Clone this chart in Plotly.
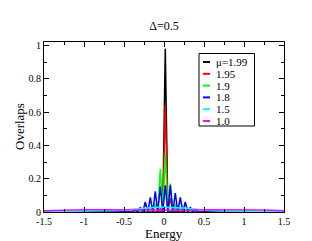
import plotly.graph_objects as go

# ---- data ----
labels = ["μ=1.99", "1.95", "1.9", "1.8", "1.5", "1.0"]
colors = ["#000000", "#ff0000", "#00ff00", "#0000ff", "#00ffff", "#ff00ff"]

e_black = [-1.5, -0.015, 0.016, 0.048, 1.5]
v_black = [0.0, 0.0, 0.98, 0.0, 0.0]

e_red = [-1.5, -0.078, -0.046, -0.015, 0.016, 0.048, 0.079, 0.110, 0.141, 0.173, 1.5]
v_red = [0.0, 0.0, 0.02, 0.0, 0.64, 0.0, 0.08, 0.0, 0.03, 0.0, 0.0]

e_green = [-1.5, -0.203, -0.171, -0.140, -0.109, -0.078, -0.046, -0.015, 0.016,
           0.048, 0.079, 0.110, 0.141, 0.173, 0.204, 0.235, 1.5]
v_green = [0.0, 0.0, 0.02, 0.0, 0.05, 0.0, 0.26, 0.0, 0.35,
           0.0, 0.17, 0.0, 0.05, 0.0, 0.02, 0.0, 0.0]

e_blue = [-1.5, -0.39, -0.359, -0.328, -0.296, -0.265, -0.234, -0.203, -0.171, -0.140,
          -0.109, -0.078, -0.046, -0.015, 0.016, 0.048, 0.079, 0.110, 0.141, 0.173,
          0.204, 0.235, 0.266, 0.298, 0.329, 0.360, 0.391, 0.42, 1.5]
v_blue = [0.0, 0.0, 0.015, 0.0, 0.028, 0.0, 0.06, 0.0, 0.088, 0.0,
          0.124, 0.0, 0.153, 0.0, 0.16, 0.0, 0.16, 0.0, 0.113, 0.0,
          0.088, 0.0, 0.06, 0.0, 0.03, 0.0, 0.015, 0.0, 0.0]

e_cyan = [-1.5, -1.25, -1.0, -0.75, -0.6, -0.5, -0.4, -0.3, -0.2, -0.1, 0.0,
          0.1, 0.2, 0.3, 0.4, 0.5, 0.6, 0.75, 1.0, 1.25, 1.5]
v_cyan = [0.002, 0.003, 0.004, 0.006, 0.009, 0.012, 0.017, 0.022, 0.026, 0.028, 0.029,
          0.028, 0.026, 0.022, 0.017, 0.012, 0.009, 0.006, 0.004, 0.003, 0.002]

e_mag = [-1.5, -1.25, -1.0, -0.75, -0.5, -0.25, 0.0, 0.25, 0.5, 0.75, 1.0, 1.25, 1.5]
v_mag = [0.008, 0.012, 0.014, 0.014, 0.013, 0.011, 0.010, 0.011, 0.013, 0.014, 0.014, 0.012, 0.008]

series_e = [e_black, e_red, e_green, e_blue, e_cyan, e_mag]
series_v = [v_black, v_red, v_green, v_blue, v_cyan, v_mag]

x_ticks = [-1.5, -1.0, -0.5, 0.0, 0.5, 1.0, 1.5]
x_ticktext = ["-1.5", "-1", "-0.5", "0", "0.5", "1", "1.5"]
y_ticks = [0.0, 0.2, 0.4, 0.6, 0.8, 1.0]
y_ticktext = ["0", "0.2", "0.4", "0.6", "0.8", "1"]

FONT = "Liberation Serif"

fig = go.Figure()
for e, v, c, name in zip(series_e, series_v, colors, labels):
    fig.add_trace(go.Scatter(x=e, y=v, mode="lines", name=name,
                             line=dict(color=c, width=1.5), showlegend=False))

W, H = 312, 241
L, R, T, B = 36, 36, 34, 37
pw, ph = W - L - R, H - T - B

def px_x(p):
    return (p - L) / pw

def px_y(p):
    return (H - B - p) / ph

shapes = [dict(type="rect", xref="paper", yref="paper",
               x0=px_x(191), x1=px_x(246.5), y0=px_y(118), y1=px_y(45.5),
               line=dict(color="black", width=1), fillcolor="white", layer="above")]
annotations = []
for i, (name, c) in enumerate(zip(labels, colors)):
    yy = px_y(54 + 11.8 * i)
    shapes.append(dict(type="line", xref="paper", yref="paper",
                       x0=px_x(195), x1=px_x(202), y0=yy, y1=yy,
                       line=dict(color=c, width=2), layer="above"))
    annotations.append(dict(xref="paper", yref="paper", x=px_x(206), y=yy,
                            text=name, showarrow=False, xanchor="left", yanchor="middle",
                            font=dict(family=FONT, size=11, color="black")))

annotations.append(dict(xref="paper", yref="paper", x=0.5, y=0, yshift=-12,
                        text="Energy", showarrow=False, xanchor="center", yanchor="top",
                        font=dict(family=FONT, size=13, color="black")))
annotations.append(dict(xref="paper", yref="paper", x=0, xshift=-25, y=0.5,
                        text="Overlaps", showarrow=False, textangle=-90,
                        xanchor="center", yanchor="middle",
                        font=dict(family=FONT, size=13, color="black")))

fig.update_layout(
    width=W, height=H,
    margin=dict(l=L, r=R, t=T, b=B, pad=0),
    paper_bgcolor="white", plot_bgcolor="white",
    title=dict(text="Δ=0.5", x=0.5, xanchor="center", y=1 - 18 / H, yanchor="middle",
               yref="container", font=dict(family=FONT, size=12, color="black")),
    font=dict(family=FONT, size=10, color="black"),
    shapes=shapes, annotations=annotations,
    xaxis=dict(range=[-1.5, 1.5], tickvals=x_ticks, ticktext=x_ticktext,
               ticks="inside", ticklen=5, tickcolor="black", showline=True,
               linecolor="black", linewidth=1, mirror="allticks", showgrid=False,
               zeroline=False, tickfont=dict(family=FONT, size=10),
               minor=dict(dtick=0.25, ticks="inside", ticklen=3, tickcolor="black")),
    yaxis=dict(range=[0, 1.02], tickvals=y_ticks, ticktext=y_ticktext,
               ticks="inside", ticklen=5, tickcolor="black", showline=True,
               linecolor="black", linewidth=1, mirror="allticks", showgrid=False,
               zeroline=False, tickfont=dict(family=FONT, size=10),
               minor=dict(dtick=0.1, ticks="inside", ticklen=3, tickcolor="black")),
)

fig.write_html("out.html")
